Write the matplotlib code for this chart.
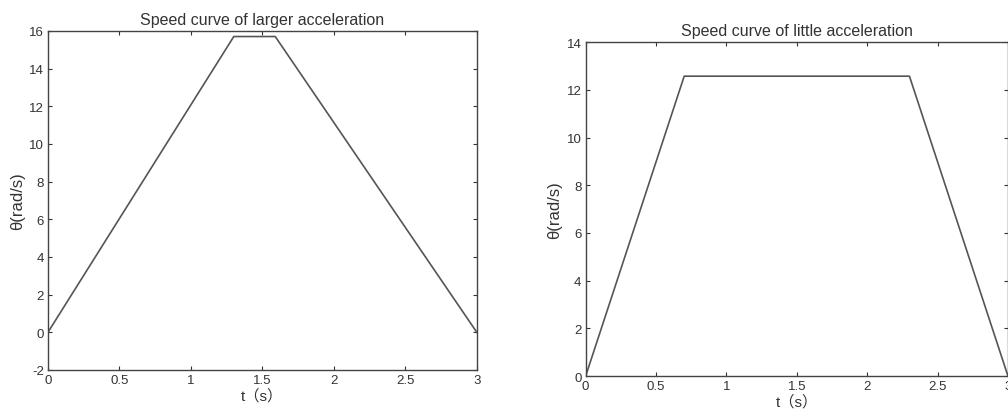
import matplotlib
matplotlib.use("Agg")
import matplotlib.pyplot as plt

plt.rcParams['font.family'] = ['Liberation Sans', 'Noto Sans CJK SC', 'DejaVu Sans']
plt.rcParams['axes.unicode_minus'] = False

# larger acceleration profile
t_large = [0, 1.3, 1.59, 3]
w_large = [0, 15.7, 15.7, 0]

# little acceleration profile
t_little = [0, 0.7, 2.3, 3]
w_little = [0, 12.57, 12.57, 0]

x_ticks = [0, 0.5, 1, 1.5, 2, 2.5, 3]
x_labels = ['0', '0.5', '1', '1.5', '2', '2.5', '3']
y_ticks_large = [-2, 0, 2, 4, 6, 8, 10, 12, 14, 16]
y_ticks_little = [0, 2, 4, 6, 8, 10, 12, 14]

text_col = '#333333'
line_col = '#555555'


def style_axes(ax, title, yticks):
    ax.set_xlim(0, 3)
    ax.set_ylim(yticks[0], yticks[-1])
    ax.set_xticks(x_ticks)
    ax.set_xticklabels(x_labels)
    ax.set_yticks(yticks)
    ax.tick_params(direction='in', top=True, right=True, length=3,
                   labelsize=9.5, colors=text_col, pad=3)
    for s in ax.spines.values():
        s.set_color('#444444')
        s.set_linewidth(1.0)
    ax.set_title(title, fontsize=11.5, color=text_col, pad=5)
    ax.set_xlabel('t（s）', fontsize=11, color=text_col, labelpad=1)
    ax.set_ylabel('θ(rad/s)', fontsize=12, color=text_col, labelpad=3)


fig = plt.figure(figsize=(10.08, 4.14), dpi=100)

ax1 = fig.add_axes([0.0476, 0.104, 0.4254, 0.819])
ax1.plot(t_large, w_large, color=line_col, linewidth=1.2)
style_axes(ax1, 'Speed curve of larger acceleration', y_ticks_large)

ax2 = fig.add_axes([0.581, 0.089, 0.419, 0.807])
ax2.plot(t_little, w_little, color=line_col, linewidth=1.2)
style_axes(ax2, 'Speed curve of little acceleration', y_ticks_little)

fig.savefig('out.png', dpi=100)
